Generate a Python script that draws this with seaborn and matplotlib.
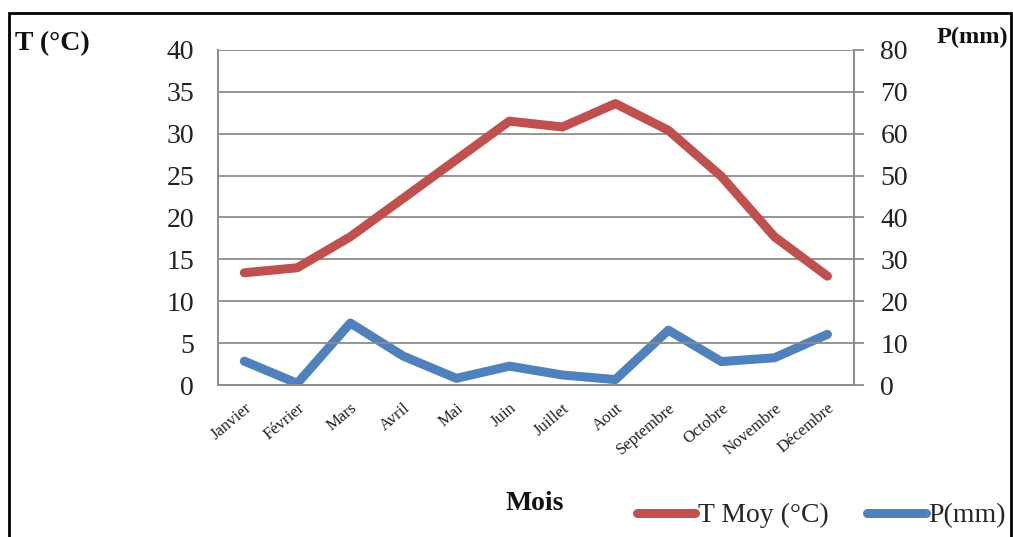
import matplotlib
matplotlib.use("Agg")
import matplotlib.pyplot as plt
import seaborn as sns
import pandas as pd
from matplotlib.patches import Rectangle

months = ["Janvier", "Février", "Mars", "Avril", "Mai", "Juin", "Juillet",
          "Aout", "Septembre", "Octobre", "Novembre", "Décembre"]
t_moy = [13.4, 14.0, 17.7, 22.3, 26.9, 31.5, 30.8, 33.6, 30.4, 24.9, 17.7, 13.0]
p_mm = [5.7, 0.4, 14.8, 6.9, 1.6, 4.5, 2.4, 1.3, 13.1, 5.6, 6.5, 12.1]

df = pd.DataFrame({"Mois": months, "T": t_moy, "P": p_mm})
df["pos"] = range(len(months))

sns.set_theme(style="white")
plt.rcParams["font.family"] = ["Liberation Serif", "DejaVu Serif"]

red = "#C0504D"
blue = "#4F81BD"
grid_c = "#8C8C8C"

fig = plt.figure(figsize=(10.13, 5.37), dpi=100)
ax = fig.add_axes([0.215, 0.283, 0.628, 0.624])
ax2 = ax.twinx()

sns.lineplot(data=df, x="pos", y="T", ax=ax, color=red, lw=6.5,
             label="T Moy (°C)", legend=False, zorder=3)
sns.lineplot(data=df, x="pos", y="P", ax=ax2, color=blue, lw=6.5,
             label="P(mm)", legend=False, zorder=3)

ax.set_xlim(-0.5, 11.5)
ax.set_ylim(0, 40)
ax2.set_ylim(0, 80)
ax.set_yticks(range(0, 41, 5))
ax2.set_yticks(range(0, 81, 10))
ax.set_xticks(range(12))
ax.set_xticklabels(months, rotation=40, ha="right", rotation_mode="anchor",
                   fontsize=12)
ax.set_xlabel("")
ax.set_ylabel("")
ax2.set_ylabel("")
ax.yaxis.grid(True, color=grid_c, lw=1.3)
ax.xaxis.grid(False)
ax2.grid(False)
ax.tick_params(axis="y", labelsize=20, length=0, pad=17, colors="#222222")
ax.tick_params(axis="x", length=0, pad=11, colors="#222222")
ax2.tick_params(axis="y", labelsize=20, length=7, width=1.3, color=grid_c,
                direction="out", pad=12, labelcolor="#222222")
ax2.tick_params(right=True)
for a in (ax, ax2):
    for s in a.spines.values():
        s.set_color(grid_c)
        s.set_linewidth(1.3)
    a.spines["top"].set_visible(False)
ax.set_zorder(ax2.get_zorder() + 1)
ax.patch.set_visible(False)

fig.text(0.015, 0.918, "T (°C)", fontsize=20, fontweight="bold", ha="left",
         va="center", color="#111111")
fig.text(0.995, 0.93, "P(mm)", fontsize=17.5, fontweight="bold", ha="right",
         va="center", color="#111111")
fig.text(0.528, 0.063, "Mois", fontsize=20, fontweight="bold", ha="center",
         va="center", color="#111111")

h1, l1 = ax.get_legend_handles_labels()
h2, l2 = ax2.get_legend_handles_labels()
fig.legend(h1 + h2, l1 + l2, loc="center right", bbox_to_anchor=(0.993, 0.04),
           ncol=2, frameon=False, fontsize=20, handlelength=2.1,
           handletextpad=0.1, columnspacing=1.4, borderaxespad=0, borderpad=0)

fig.patches.append(Rectangle((0.009, -0.05), 0.989, 1.026, transform=fig.transFigure,
                             fill=False, edgecolor="black", lw=2))

fig.savefig("out.png", dpi=100)
